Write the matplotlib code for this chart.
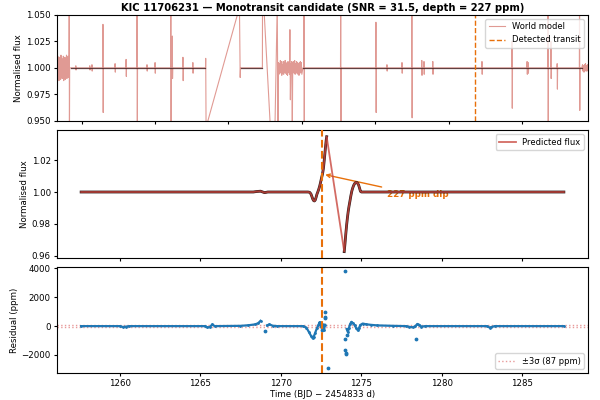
import numpy as np
import matplotlib
matplotlib.use("Agg")
import matplotlib.pyplot as plt

# valeurs
kic = "11706231"
snr = 31.5
depth_ppm = 227
sigma3_ppm = 87
T0 = 1272.6

# panneau du haut : modèle "world" sur toute la mission (BKJD)
wm_quiet = [(170, 537), (634, 692), (803, 1563)]
wm_bridge_t = [537.5, 538, 539, 630, 632, 633, 692.5, 693, 718, 726, 733]
wm_bridge_f = [1.0, 1.009, 0.944, 1.057, 0.991, 1.0, 1.0, 1.08, 0.92, 0.93, 1.06]
wm_spike_t = [166, 184, 222, 228, 258, 291, 321, 351, 378, 400, 443, 447, 476, 503,
              806, 906, 1002, 1032, 1073, 1100, 1127, 1133, 1157, 1291, 1373, 1414,
              1417, 1471, 1479, 1496, 1557]
wm_spike_hi = [1.07, 1.002, 1.002, 1.003, 1.041, 1.004, 1.008, 1.07, 1.003, 1.005, 1.07,
               1.03, 1.01, 1.005, 1.07, 1.07, 1.043, 1.003, 1.005, 1.07, 1.007, 1.006,
               1.006, 1.006, 1.025, 1.006, 1.005, 1.07, 1.025, 1.004, 1.07]
wm_spike_lo = [0.93, 0.998, 0.998, 0.997, 0.958, 0.996, 0.992, 0.93, 0.997, 0.995, 0.93,
               0.99, 0.988, 0.995, 0.93, 0.93, 0.958, 0.997, 0.995, 0.953, 0.993, 0.994,
               0.994, 0.994, 0.962, 0.994, 0.995, 0.93, 0.99, 0.98, 0.96]
# blocs bruités (en 1e-3 autour de 1)
noise1_span = (132.7, 164)
noise1 = [9, -8, 11, -10, 7, -12, 10, -9, 8, -11, 12, -7, 9, -10, 6, -9, 11, -12, 8, -8,
          10, -11, 7, -9, 12, -10, 9, -8, 11, -9]
noise2_span = (735, 800)
noise2 = [-60, 5, -6, 4, -5, 7, -4, 6, -7, 3, -5, 6, -6, 5, -4, 7, -5, 4, -6, 5, -7, 6,
          -4, 5, -6, 36, -30, 4, -5, 6, -60, 5, -4, 6, -5, 7, -6, 4, -5, 6, -4, 5, -6, 4,
          -7, 5, -5, 6, -4, 5, -6]
noise3_span = (1565, 1580)
noise3 = [3, -3, 2, -4, 3, -2, 4, -3, 2, -3, 3, -2]

# panneau du milieu : flux observé autour du transit
obs_a_t = [1257.6, 1268.3, 1268.5, 1268.75, 1269.0, 1269.2, 1271.70, 1271.80, 1271.88,
           1271.94, 1272.00, 1272.05, 1272.10, 1272.15, 1272.20, 1272.25, 1272.30,
           1272.36, 1272.42, 1272.48, 1272.54, 1272.60, 1272.66, 1272.72, 1272.78,
           1272.83, 1272.86]
obs_a_f = [1.0, 1.0, 1.0003, 1.0005, 0.9996, 1.0, 1.0, 0.9998, 0.9988, 0.9972, 0.9955,
           0.9946, 0.9944, 0.9950, 0.9966, 0.9985, 0.9998, 1.0015, 1.0035, 1.0060, 1.0088,
           1.0112, 1.0150, 1.0210, 1.0275, 1.0325, 1.0346]
obs_b_t = [1273.95, 1274.00, 1274.05, 1274.10, 1274.15, 1274.20, 1274.25, 1274.30,
           1274.36, 1274.42, 1274.48, 1274.54, 1274.60, 1274.66, 1274.72, 1274.78,
           1274.84, 1274.90, 1274.96, 1275.02, 1287.6]
obs_b_f = [0.9627, 0.9680, 0.9740, 0.9794, 0.9840, 0.9880, 0.9912, 0.9940, 0.9975,
           1.0005, 1.0026, 1.0042, 1.0053, 1.0059, 1.0060, 1.0055, 1.0045, 1.0025,
           1.0004, 1.0, 1.0]

# panneau du bas : résidus (ppm)
res_a_t = [1257.6, 1260.0, 1260.2, 1260.4, 1260.6, 1265.3, 1265.45, 1265.6, 1265.75,
           1265.9, 1267.5, 1268.0, 1268.4, 1268.6, 1268.75]
res_a_v = [0, 0, -60, -30, 0, 0, -90, -60, 120, 0, 20, 60, 120, 200, 370]
res_b_t = [1269.15, 1269.3, 1269.5, 1269.8, 1271.4, 1271.6, 1271.75, 1271.9, 1271.99,
           1272.05, 1272.15, 1272.25, 1272.35, 1272.42, 1272.52, 1272.6, 1272.65, 1272.7,
           1272.75]
res_b_v = [50, 120, 30, 0, 0, -100, -400, -700, -850, -750, -450, -150, 80, 280, -50,
           150, -200, -280, 100]
res_c_t = [1274.10, 1274.18, 1274.25, 1274.32, 1274.40, 1274.50, 1274.60, 1274.70,
           1274.80, 1274.88, 1274.95, 1275.10, 1275.30, 1275.60, 1276.0, 1277.0, 1277.8,
           1278.0, 1278.2, 1278.35, 1278.5, 1278.6, 1278.75, 1279.0, 1282.8, 1283.0,
           1283.1, 1283.3, 1287.6]
res_c_v = [-200, -420, -100, 150, 300, 200, 60, -150, -300, -100, 80, 180, 130, 90, 50,
           20, 0, -50, -80, -20, 150, 100, -30, 0, 0, -100, -60, 0, 0]
out_t = [1269.04, 1272.60, 1272.75, 1272.75, 1272.77, 1272.93, 1273.99, 1274.0,
         1274.02, 1274.03, 1274.05, 1274.12, 1278.43]
out_v = [-320, -280, 990, 640, 530, -2920, 3800, -920, -1650, -1850, -1950, -600, -900]

orange = "#e8700a"
wm_color = "#c8483c"

plt.rcParams["font.size"] = 6.2
plt.rcParams["xtick.major.size"] = 2.5
plt.rcParams["ytick.major.size"] = 2.5
plt.rcParams["xtick.major.pad"] = 2
plt.rcParams["ytick.major.pad"] = 2
plt.rcParams["axes.labelpad"] = 2

fig = plt.figure(figsize=(6, 4), dpi=100)
ax1 = fig.add_axes([0.095, 0.6975, 0.885, 0.2655])
ax2 = fig.add_axes([0.095, 0.355, 0.885, 0.32])
ax3 = fig.add_axes([0.095, 0.0675, 0.885, 0.265])

# --- modèle world
pts = [(t, 1.0) for seg in wm_quiet for t in seg]
pts += list(zip(wm_bridge_t, wm_bridge_f))
for t, hi, lo in zip(wm_spike_t, wm_spike_hi, wm_spike_lo):
    pts += [(t - 0.6, 1.0), (t, hi), (t + 0.6, lo), (t + 1.2, 1.0)]
for span, vals in [(noise1_span, noise1), (noise2_span, noise2), (noise3_span, noise3)]:
    tt = np.linspace(span[0], span[1], len(vals))
    pts += [(t, 1 + v / 1000) for t, v in zip(tt, vals)]
pts.sort()
wm_t, wm_f = zip(*pts)
ax1.plot(wm_t, wm_f, color=wm_color, lw=0.8, alpha=0.55, label="World model")
for t0, t1 in wm_quiet:
    ax1.plot([t0, t1], [1.0, 1.0], color="#3d1c1c", lw=0.9, alpha=0.8)
ax1.axvline(T0, color=orange, ls="--", lw=1.0, label="Detected transit")
ax1.set_xlim(132.7, 1580)
ax1.set_ylim(0.95, 1.05)
ax1.set_yticks([0.95, 0.975, 1.0, 1.025, 1.05])
ax1.yaxis.set_major_formatter(matplotlib.ticker.FormatStrFormatter("%.3f"))
ax1.tick_params(labelbottom=False)
ax1.set_ylabel("Normalised flux")
ax1.legend(loc="upper right", fontsize=6)
ax1.set_title(f"KIC {kic} — Monotransit candidate (SNR = {snr}, depth = {depth_ppm} ppm)",
              fontweight="bold", fontsize=7.2, pad=3)

# --- flux prédit
ax2.plot(obs_a_t, obs_a_f, color="#2a1717", lw=2.0, zorder=3)
ax2.plot(obs_b_t, obs_b_f, color="#2a1717", lw=2.0, zorder=3)
ax2.plot(obs_a_t + obs_b_t, obs_a_f + obs_b_f, color="#c9463d", lw=1.3, alpha=0.8,
         zorder=4, label="Predicted flux")
ax2.axvline(T0, color=orange, ls="--", lw=1.5, zorder=5)
ax2.annotate(f"{depth_ppm} ppm dip", xy=(T0, 1.0112), xytext=(1276.6, 0.9982),
             color=orange, fontweight="bold", fontsize=6.3, ha="left", va="center",
             arrowprops=dict(arrowstyle="->", color=orange, lw=1), zorder=1)
ax2.set_xlim(1256.1, 1289.1)
ax2.set_ylim(0.9587, 1.0388)
ax2.set_yticks([0.96, 0.98, 1.00, 1.02])
ax2.yaxis.set_major_formatter(matplotlib.ticker.FormatStrFormatter("%.2f"))
ax2.tick_params(labelbottom=False)
ax2.set_ylabel("Normalised flux")
ax2.legend(loc="upper right", fontsize=6)

# --- résidus
ax3.axhline(sigma3_ppm, color="#e89a9a", ls=":", lw=1, label=f"±3σ ({sigma3_ppm} ppm)")
ax3.axhline(-sigma3_ppm, color="#e89a9a", ls=":", lw=1)
for tt, vv in [(res_a_t, res_a_v), (res_b_t, res_b_v), (res_c_t, res_c_v)]:
    ax3.plot(tt, vv, color="#1f77b4", lw=1.6, marker=".", ms=2)
ax3.scatter(out_t, out_v, s=3, color="#1f77b4")
ax3.axvline(T0, color=orange, ls="--", lw=1.5)
ax3.set_xlim(1256.1, 1289.1)
ax3.set_ylim(-3250, 4100)
ax3.set_yticks([-2000, 0, 2000, 4000])
ax3.set_ylabel("Residual (ppm)")
ax3.set_xlabel("Time (BJD − 2454833 d)", labelpad=1)
ax3.legend(loc="lower right", fontsize=6)

plt.savefig("out.png", dpi=100)
print("→ Graphique sauvegardé : out.png")
